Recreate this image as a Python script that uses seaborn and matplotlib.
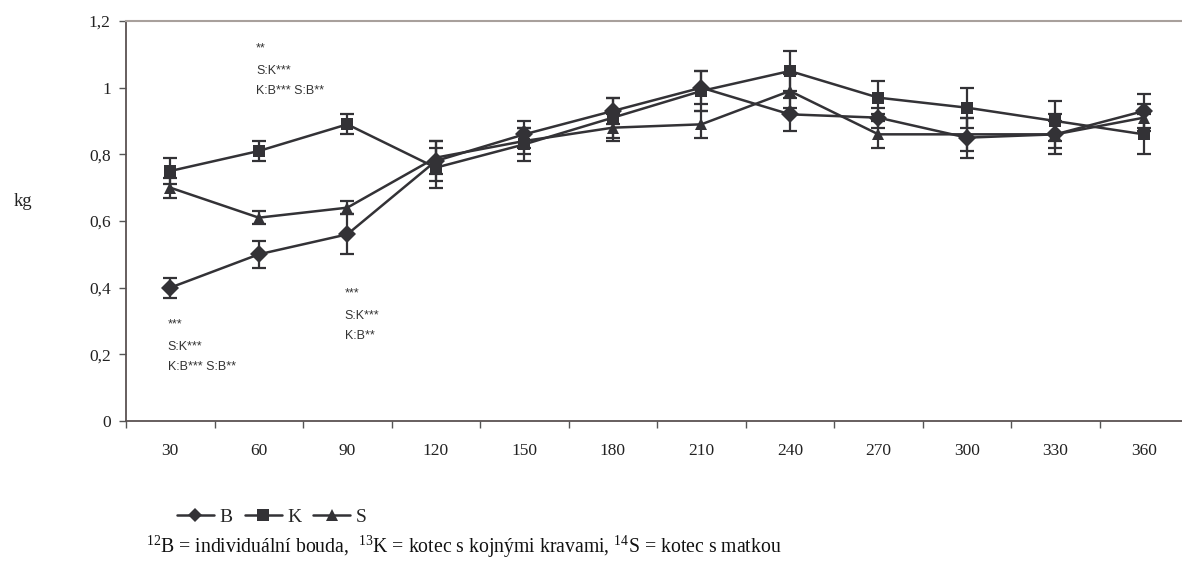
import numpy as np
import pandas as pd
import matplotlib
matplotlib.use("Agg")
import matplotlib.pyplot as plt
from matplotlib.lines import Line2D
import seaborn as sns

days = ["30", "60", "90", "120", "150", "180", "210", "240", "270", "300", "330", "360"]
B_vals = [0.40, 0.50, 0.56, 0.78, 0.86, 0.93, 1.00, 0.92, 0.91, 0.85, 0.86, 0.93]
B_err = [0.03, 0.04, 0.06, 0.06, 0.04, 0.04, 0.05, 0.05, 0.03, 0.06, 0.04, 0.05]
K_vals = [0.75, 0.81, 0.89, 0.76, 0.83, 0.91, 0.99, 1.05, 0.97, 0.94, 0.90, 0.86]
K_err = [0.04, 0.03, 0.03, 0.06, 0.05, 0.06, 0.06, 0.06, 0.05, 0.06, 0.06, 0.06]
S_vals = [0.70, 0.61, 0.64, 0.79, 0.84, 0.88, 0.89, 0.99, 0.86, 0.86, 0.86, 0.91]
S_err = [0.03, 0.02, 0.02, 0.05, 0.04, 0.04, 0.04, 0.05, 0.04, 0.05, 0.06, 0.04]
y_ticks = [0, 0.2, 0.4, 0.6, 0.8, 1.0, 1.2]
y_ticklabels = ["0", "0,2", "0,4", "0,6", "0,8", "1", "1,2"]
annotations = [
    (1, 1.118, ["**", "S:K***", "K:B*** S:B**"]),
    (0, 0.29, ["***", "S:K***", "K:B*** S:B**"]),
    (2, 0.382, ["***", "S:K***", "K:B**"]),
]

sns.set_theme(style="white")
plt.rcParams["font.family"] = ["Liberation Serif", "DejaVu Serif"]
plt.rcParams["mathtext.fontset"] = "custom"
plt.rcParams["mathtext.rm"] = "Liberation Serif"

series = {"B": (B_vals, B_err, "D", 7), "K": (K_vals, K_err, "s", 8.5), "S": (S_vals, S_err, "^", 8)}
rows = []
for name, (vals, errs, m, s) in series.items():
    for i, v in enumerate(vals):
        rows.append({"pos": i, "value": v, "group": name})
df = pd.DataFrame(rows)

col = "#333236"
fig = plt.figure(figsize=(11.82, 5.63), dpi=100)
ax = fig.add_axes([126 / 1182, 142 / 563, 1056 / 1182, 400 / 563])

sns.lineplot(data=df, x="pos", y="value", hue="group", style="group",
             markers={"B": "D", "K": "s", "S": "^"}, dashes=False,
             palette={"B": col, "K": col, "S": col}, markersize=9,
             linewidth=1.8, markeredgewidth=0, legend=False, ax=ax)
for name, (vals, errs, m, s) in series.items():
    ax.errorbar(range(len(days)), vals, yerr=errs, fmt="none", ecolor=col,
                elinewidth=1.6, capsize=5, capthick=1.6, zorder=3)

ax.set_xlim(-0.5, 11.43)
ax.set_ylim(0, 1.2)
ax.set_xticks(np.arange(-0.5, 11.0, 1.0))
ax.set_xticklabels([])
ax.set_xticks(range(len(days)), minor=True)
ax.set_xticklabels(days, minor=True, fontsize=12.5, color="#222222")
ax.tick_params(axis="x", which="major", length=5, width=1, color="#555", direction="out", bottom=True)
ax.tick_params(axis="x", which="minor", length=0, pad=16)
ax.set_yticks(y_ticks)
ax.set_yticklabels(y_ticklabels, fontsize=12.5, color="#222222")
ax.tick_params(axis="y", length=5, width=1, color="#555", direction="out", left=True, pad=6)
ax.set_xlabel("")
ax.set_ylabel("")
for sp in ["left", "bottom"]:
    ax.spines[sp].set_color("#5a5252")
    ax.spines[sp].set_linewidth(1.3)
ax.spines["top"].set_color("#a8a09c")
ax.spines["top"].set_linewidth(1.5)
ax.spines["right"].set_visible(False)

fig.text(23 / 1182, 1 - 201 / 563, "kg", fontsize=13.5, ha="center", va="center", color="#222")

for pos, ytop, lines in annotations:
    offs = [0, 0.067, 0.128]
    for o, t in zip(offs, lines):
        ax.text(pos - 0.03, ytop - o, t, fontsize=9, family=["Liberation Sans", "DejaVu Sans"],
                color="#333", ha="left", va="center")

handles = [Line2D([], [], color=col, marker=m, markersize=s, linewidth=1.8, markeredgewidth=0)
           for name, (vals, errs, m, s) in series.items()]
fig.legend(handles, list(series.keys()), loc="center left", bbox_to_anchor=(177 / 1182, 1 - 517 / 563),
           ncol=3, frameon=False, fontsize=14, handlelength=1.9, handletextpad=0.3, columnspacing=0.6,
           borderpad=0, borderaxespad=0)

fig.text(146 / 1182, 1 - 547 / 563,
         r"$^{12}$B = individuální bouda,  $^{13}$K = kotec s kojnými kravami, $^{14}$S = kotec s matkou",
         fontsize=14.2, ha="left", va="center", color="#111")

fig.savefig("out.png", dpi=100)
